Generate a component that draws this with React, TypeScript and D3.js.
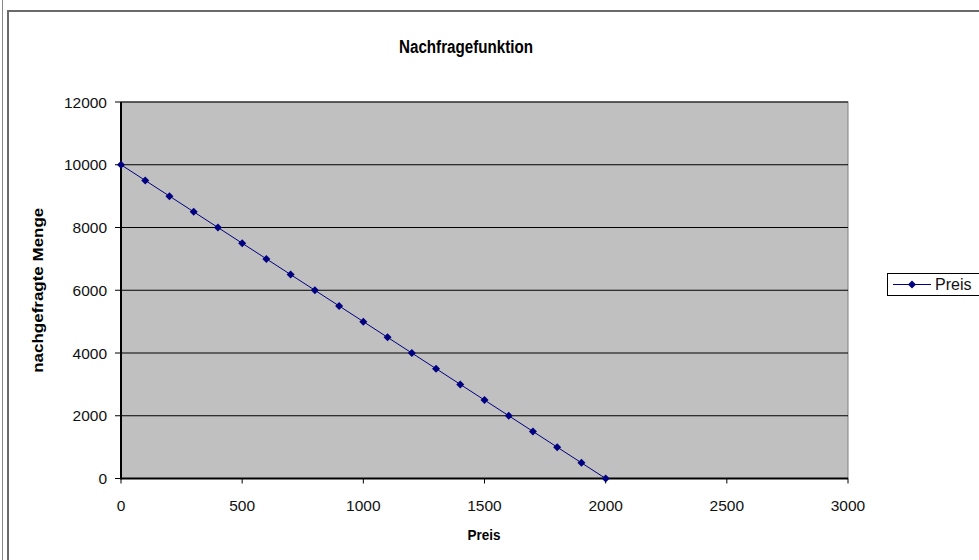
import React from "react";
import * as d3 from "d3";

const preis = [0, 100, 200, 300, 400, 500, 600, 700, 800, 900, 1000, 1100, 1200, 1300, 1400, 1500, 1600, 1700, 1800, 1900, 2000];
const menge = [10000, 9500, 9000, 8500, 8000, 7500, 7000, 6500, 6000, 5500, 5000, 4500, 4000, 3500, 3000, 2500, 2000, 1500, 1000, 500, 0];
const xTicks = [0, 500, 1000, 1500, 2000, 2500, 3000];
const yTicks = [0, 2000, 4000, 6000, 8000, 10000, 12000];
const title = "Nachfragefunktion";
const xLabel = "Preis";
const yLabel = "nachgefragte Menge";
const seriesName = "Preis";

export default function App() {
  const W = 979, H = 560;
  const left = 121, right = 848, top = 102, bottom = 478.5;
  const x = d3.scaleLinear().domain([0, 3000]).range([left, right]);
  const y = d3.scaleLinear().domain([0, 12000]).range([bottom, top]);
  const pts = preis.map((p, i) => [x(p), y(menge[i])] as [number, number]);
  const line = d3.line()(pts) || "";
  const font = "Arial, 'Liberation Sans', sans-serif";
  const diamond = (cx: number, cy: number, r = 4) =>
    `M${cx},${cy - r}L${cx + r},${cy}L${cx},${cy + r}L${cx - r},${cy}Z`;
  return (
    <svg width={W} height={H} style={{ position: "absolute", left: 0, top: 0, background: "#fff" }} fontFamily={font}>
      <rect x={0} y={0} width={W} height={H} fill="#fff" />
      <line x1={2.5} y1={0} x2={2.5} y2={H} stroke="#888" strokeWidth={1} />
      <rect x={8} y={11} width={W + 10} height={H} fill="none" stroke="#6a6a6a" strokeWidth={2} />
      <text x={466} y={53} textAnchor="middle" fontSize={18} fontWeight="bold" fill="#000" textLength={134} lengthAdjust="spacingAndGlyphs">{title}</text>
      <rect x={left} y={top} width={right - left} height={bottom - top} fill="#c0c0c0" stroke="#808080" strokeWidth={1} />
      {yTicks.map((t) => (
        <g key={"y" + t}>
          {t > 0 && <line x1={left} x2={right} y1={y(t)} y2={y(t)} stroke="#000" strokeWidth={1} />}
          <line x1={left - 6} x2={left} y1={y(t)} y2={y(t)} stroke="#000" />
          <text x={107} y={y(t) + 5.5} textAnchor="end" fontSize={15.5} fill="#111">{t}</text>
        </g>
      ))}
      {xTicks.map((t) => (
        <g key={"x" + t}>
          <line x1={x(t)} x2={x(t)} y1={bottom} y2={bottom + 5} stroke="#000" />
          <text x={x(t)} y={bottom + 32} textAnchor="middle" fontSize={15.5} fill="#111">{t}</text>
        </g>
      ))}
      <line x1={left} x2={left} y1={top} y2={bottom + 1} stroke="#000" strokeWidth={2} />
      <line x1={left} x2={right} y1={bottom} y2={bottom} stroke="#000" strokeWidth={2} />
      <path d={line} fill="none" stroke="#000080" strokeWidth={1} />
      {pts.map(([cx, cy], i) => (
        <path key={i} d={diamond(cx, cy)} fill="#000080" />
      ))}
      <text x={484} y={540} textAnchor="middle" fontSize={15} fontWeight="bold" fill="#000" textLength={33} lengthAdjust="spacingAndGlyphs">{xLabel}</text>
      <text transform={`translate(43,${(top + bottom) / 2}) rotate(-90)`} textAnchor="middle" fontSize={14} fontWeight="bold" fill="#000" textLength={165} lengthAdjust="spacingAndGlyphs">{yLabel}</text>
      <rect x={887.5} y={273.5} width={120} height={22} fill="#fff" stroke="#000" strokeWidth={1} />
      <line x1={893} x2={931} y1={284.5} y2={284.5} stroke="#000080" strokeWidth={1} />
      <path d={diamond(912, 284.5)} fill="#000080" />
      <text x={935} y={290} fontSize={16} fill="#111">{seriesName}</text>
    </svg>
  );
}
